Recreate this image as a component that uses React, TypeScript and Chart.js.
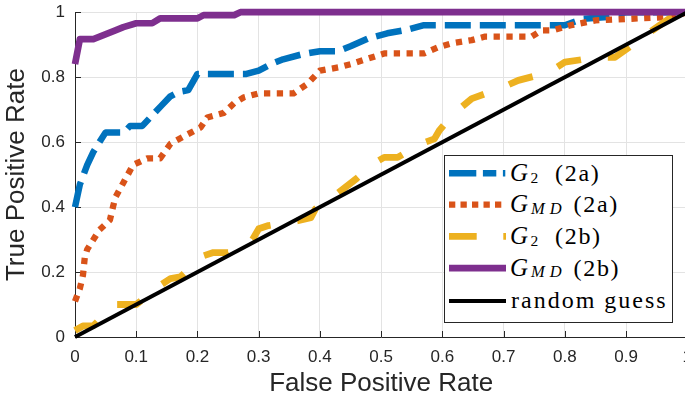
import React, { useEffect, useRef } from "react";
import { Chart, registerables } from "chart.js";

Chart.register(...registerables);

// ---- data ----
const fprG2a = [0, 0.008, 0.02, 0.03, 0.04, 0.05, 0.08, 0.09, 0.11, 0.12, 0.13, 0.14, 0.155, 0.17, 0.185, 0.2, 0.28, 0.3, 0.32, 0.34, 0.37, 0.4, 0.43, 0.45, 0.48, 0.51, 0.54, 0.57, 0.8, 0.83, 0.87, 0.9, 1];
const tprG2a = [0.4, 0.47, 0.53, 0.57, 0.6, 0.63, 0.63, 0.65, 0.65, 0.67, 0.69, 0.71, 0.74, 0.755, 0.76, 0.81, 0.81, 0.82, 0.84, 0.855, 0.87, 0.88, 0.88, 0.895, 0.92, 0.935, 0.945, 0.96, 0.96, 0.98, 0.985, 1, 1];

const fprGMDa = [0, 0.008, 0.013, 0.016, 0.02, 0.03, 0.04, 0.057, 0.062, 0.066, 0.079, 0.095, 0.118, 0.139, 0.156, 0.18, 0.205, 0.216, 0.243, 0.26, 0.276, 0.3, 0.357, 0.38, 0.4, 0.43, 0.45, 0.48, 0.505, 0.57, 0.593, 0.615, 0.648, 0.67, 0.746, 0.762, 0.78, 0.81, 0.85, 0.97, 1];
const tprGMDa = [0.11, 0.15, 0.19, 0.245, 0.27, 0.3, 0.33, 0.36, 0.4, 0.43, 0.475, 0.53, 0.55, 0.55, 0.595, 0.62, 0.645, 0.676, 0.69, 0.72, 0.738, 0.75, 0.75, 0.78, 0.82, 0.83, 0.84, 0.858, 0.873, 0.873, 0.892, 0.904, 0.914, 0.925, 0.925, 0.944, 0.944, 0.96, 0.975, 0.985, 1];

const fprG2b = [0, 0.013, 0.03, 0.065, 0.1, 0.14, 0.156, 0.172, 0.21, 0.226, 0.25, 0.29, 0.3, 0.316, 0.364, 0.385, 0.393, 0.43, 0.46, 0.49, 0.505, 0.527, 0.565, 0.587, 0.595, 0.62, 0.648, 0.694, 0.724, 0.774, 0.8, 0.852, 0.882, 0.926, 0.943, 0.97, 1];
const tprG2b = [0.02, 0.034, 0.035, 0.1, 0.1, 0.16, 0.18, 0.185, 0.25, 0.26, 0.26, 0.3, 0.333, 0.343, 0.358, 0.367, 0.395, 0.444, 0.488, 0.537, 0.553, 0.553, 0.595, 0.61, 0.636, 0.69, 0.734, 0.765, 0.79, 0.815, 0.846, 0.861, 0.861, 0.92, 0.944, 0.98, 1];

const fprGMDb = [0, 0.008, 0.03, 0.066, 0.079, 0.1, 0.126, 0.139, 0.2, 0.21, 0.26, 0.27, 1];
const tprGMDb = [0.84, 0.917, 0.917, 0.944, 0.954, 0.966, 0.966, 0.981, 0.981, 0.991, 0.991, 1, 1];

const fprRandom = [0, 1];
const tprRandom = [0, 1];

const xTickValues = [0, 0.1, 0.2, 0.3, 0.4, 0.5, 0.6, 0.7, 0.8, 0.9, 1];
const xTickLabels = ["0", "0.1", "0.2", "0.3", "0.4", "0.5", "0.6", "0.7", "0.8", "0.9", "1"];
const yTickValues = [0, 0.2, 0.4, 0.6, 0.8, 1];
const yTickLabels = ["0", "0.2", "0.4", "0.6", "0.8", "1"];

const toPoints = (xs: number[], ys: number[]) => xs.map((x, i) => ({ x, y: ys[i] }));

const AXIS = "#262626";

const inwardTicks = {
  id: "inwardTicks",
  beforeDatasetsDraw(chart: any) {
    const { ctx, chartArea, scales } = chart;
    ctx.save();
    ctx.strokeStyle = AXIS;
    ctx.lineWidth = 1;
    ctx.beginPath();
    scales.x.ticks.forEach((t: any) => {
      const px = Math.round(scales.x.getPixelForValue(t.value)) + 0.5;
      ctx.moveTo(px, chartArea.bottom);
      ctx.lineTo(px, chartArea.bottom - 6);
    });
    scales.y.ticks.forEach((t: any) => {
      const py = Math.round(scales.y.getPixelForValue(t.value)) + 0.5;
      ctx.moveTo(chartArea.left, py);
      ctx.lineTo(chartArea.left + 6, py);
    });
    ctx.stroke();
    ctx.restore();
  },
};

export default function App() {
  const ref = useRef<HTMLCanvasElement>(null);

  useEffect(() => {
    if (!ref.current) return;
    const common = { pointRadius: 0, tension: 0, clip: false as any, borderCapStyle: "butt" as const, borderJoinStyle: "round" as const, fill: false };
    const chart = new Chart(ref.current, {
      type: "line",
      data: {
        datasets: [
          { ...common, label: "G2 (2a)", data: toPoints(fprG2a, tprG2a), borderColor: "#0072BD", borderWidth: 6.5, borderDash: [26, 9], order: 4 },
          { ...common, label: "GMD (2a)", data: toPoints(fprGMDa, tprGMDa), borderColor: "#D95319", borderWidth: 6.3, borderDash: [6.3, 6.5], order: 3 },
          { ...common, label: "G2 (2b)", data: toPoints(fprG2b, tprG2b), borderColor: "#EDB120", borderWidth: 6.8, borderDash: [25, 27], order: 2 },
          { ...common, label: "GMD (2b)", data: toPoints(fprGMDb, tprGMDb), borderColor: "#7E2F8E", borderWidth: 6.7, order: 1 },
          { ...common, label: "random guess", data: toPoints(fprRandom, tprRandom), borderColor: "#000000", borderWidth: 4, order: 0 },
        ],
      },
      options: {
        responsive: false,
        animation: false,
        devicePixelRatio: 1,
        layout: { padding: { top: 0, right: 0, bottom: 0, left: 0 } },
        plugins: { legend: { display: false }, tooltip: { enabled: false } },
        scales: {
          x: {
            type: "linear",
            min: 0,
            max: 1,
            afterBuildTicks: (s: any) => { s.ticks = xTickValues.map((v) => ({ value: v })); },
            afterFit: (s: any) => { s.height = 67; },
            ticks: {
              callback: (v: any) => xTickLabels[xTickValues.indexOf(Number(v))] ?? "",
              font: { family: "'Liberation Sans', Arial, sans-serif", size: 17 },
              color: AXIS,
              padding: 10,
              maxRotation: 0,
              autoSkip: false,
            },
            grid: { color: "#e3e3e3", lineWidth: 1, drawTicks: false },
            border: { display: true, color: AXIS, width: 1 },
            title: {
              display: true,
              text: "False Positive Rate",
              font: { family: "'Liberation Sans', Arial, sans-serif", size: 26 },
              color: AXIS,
              padding: { top: 0, bottom: 5 },
            },
          },
          y: {
            type: "linear",
            min: 0,
            max: 1,
            afterBuildTicks: (s: any) => { s.ticks = yTickValues.map((v) => ({ value: v })); },
            afterFit: (s: any) => { s.width = 75; },
            ticks: {
              callback: (v: any) => yTickLabels[yTickValues.indexOf(Number(v))] ?? "",
              font: { family: "'Liberation Sans', Arial, sans-serif", size: 17 },
              color: AXIS,
              padding: 10,
              autoSkip: false,
            },
            grid: { color: "#e3e3e3", lineWidth: 1, drawTicks: false },
            border: { display: true, color: AXIS, width: 1 },
            title: {
              display: true,
              text: "True Positive Rate",
              font: { family: "'Liberation Sans', Arial, sans-serif", size: 26 },
              color: AXIS,
              padding: { top: 1, bottom: 0 },
            },
          },
        },
      },
      plugins: [inwardTicks],
    });
    return () => chart.destroy();
  }, []);

  const serif = "'Liberation Serif', 'Times New Roman', serif";
  const rows = [
    { base: 180.7, color: "#0072BD", w: 6.5, dash: "27.3 6.6 13.4 6.6 2.4", sub: "2", tag: "(2a)" },
    { base: 212, color: "#D95319", w: 6.3, dash: "6.3 5.2", sub: "MD", tag: "(2a)" },
    { base: 243.8, color: "#EDB120", w: 6.8, dash: "27.7 26.6 2.7", sub: "2", tag: "(2b)" },
    { base: 275.5, color: "#7E2F8E", w: 6.7, dash: "", sub: "MD", tag: "(2b)" },
  ];

  return (
    <div style={{ position: "fixed", left: 0, top: 0, width: 685, height: 404, overflow: "hidden", background: "#fff" }}>
      <canvas ref={ref} width={702} height={412} style={{ position: "absolute", left: 0, top: -8, width: 702, height: 412 }} />
      <svg width={685} height={404} style={{ position: "absolute", left: 0, top: 0 }}>
        <rect x={444.5} y={155.5} width={228} height={167} fill="#ffffff" stroke={AXIS} strokeWidth={1} />
        {rows.map((r, i) => (
          <g key={i}>
            <line x1={449} x2={506} y1={r.base - 7.4} y2={r.base - 7.4} stroke={r.color} strokeWidth={r.w} strokeDasharray={r.dash || undefined} />
            <text x={510} y={r.base} fontFamily={serif} fontSize={25} fill="#000">
              <tspan fontStyle="italic">G</tspan>
              {r.sub === "2" ? (
                <tspan x={530.5} y={r.base + 2.4} fontSize={15.5}>{r.sub}</tspan>
              ) : (
                <tspan x={531} y={r.base + 1.5} fontSize={16.5} fontStyle="italic" letterSpacing={5}>{r.sub}</tspan>
              )}
              <tspan x={r.sub === "2" ? 555 : 573.5} y={r.base} fontSize={24} letterSpacing={1.7}>{r.tag}</tspan>
            </text>
          </g>
        ))}
        <line x1={449} x2={506} y1={301} y2={301} stroke="#000" strokeWidth={4} />
        <text x={511} y={308} fontFamily={serif} fontSize={24} letterSpacing={2} fill="#000">random guess</text>
      </svg>
    </div>
  );
}
